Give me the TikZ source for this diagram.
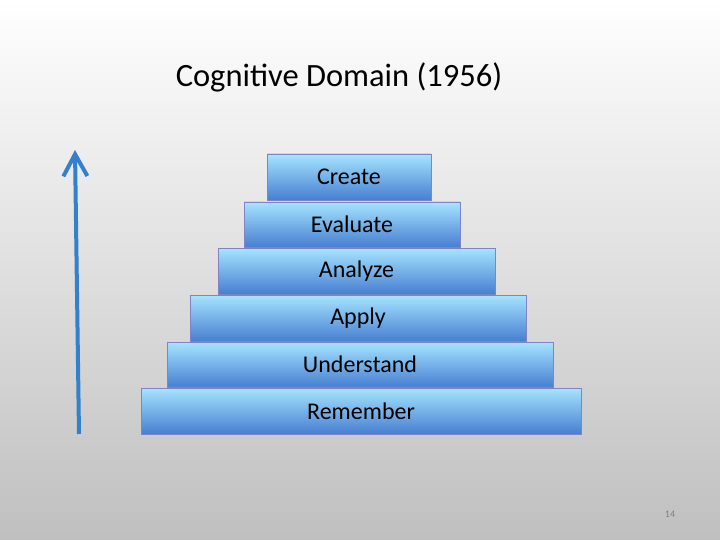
\documentclass[tikz,border=0pt]{standalone}
\usepackage{fontspec}
\setmainfont{Carlito}
\usetikzlibrary{arrows.meta}
\begin{document}
\begin{tikzpicture}[x=1pt,y=-1pt,
  lvl/.style={draw=blue!40!gray!70, line width=0.6pt, top color=blue!30!cyan!35!white, bottom color=blue!60!cyan!60!gray!90!white, font=\fontsize{24}{28}\selectfont}]
\shade[top color=white, bottom color=black!25] (0,0) rectangle (720,540);
\useasboundingbox (0,0) rectangle (720,540);
\node[font=\fontsize{32.5}{36}\selectfont] (title) at (339,77) {Cognitive Domain (1956)};
\node[lvl, minimum width=164, minimum height=46] (c) at (349,177) {Create};
\node[lvl, minimum width=216, minimum height=45] (e) at (352,224.5) {Evaluate};
\node[lvl, minimum width=277, minimum height=46] (an) at (356.5,271) {Analyze};
\node[lvl, minimum width=336, minimum height=46] (ap) at (358,318) {Apply};
\node[lvl, minimum width=386, minimum height=45] (u) at (360,364.5) {Understand};
\node[lvl, minimum width=440, minimum height=46] (r) at (361,411) {Remember};
\coordinate (a0) at (79,434);
\coordinate (a1) at (75,150);
\draw[line width=4pt, color=blue!50!cyan!60!gray, -{Straight Barb[width=24pt,length=22pt,line width=4pt]}] (a0) -- (a1);
\node[text=black!50, font=\fontsize{10}{12}\selectfont] (pg) at (670,514) {14};
\end{tikzpicture}
\end{document}
